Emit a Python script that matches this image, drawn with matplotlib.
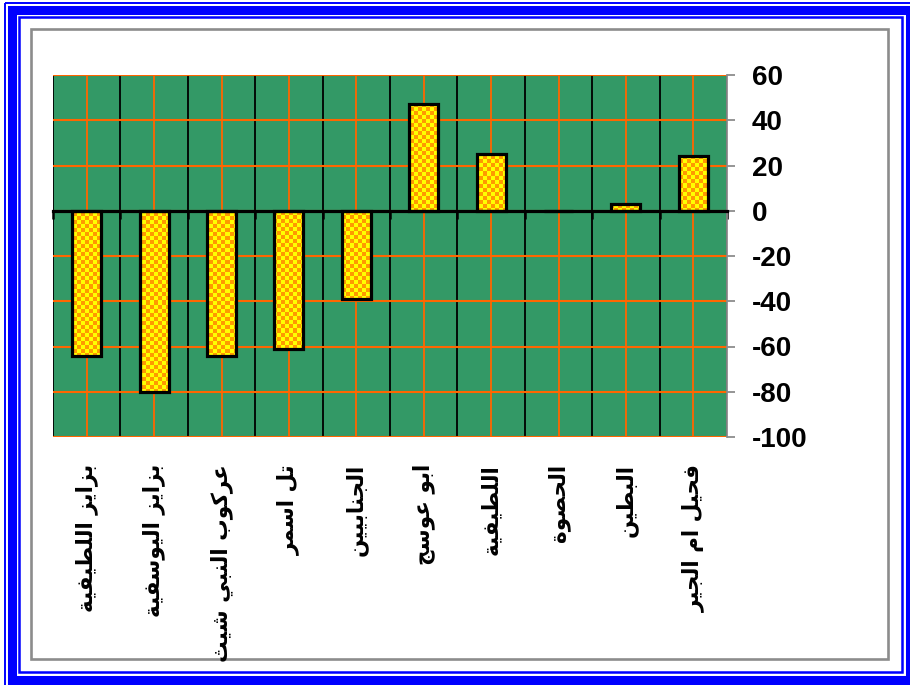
import numpy as np
import matplotlib
matplotlib.use("Agg")
import matplotlib.pyplot as plt
from matplotlib.colors import ListedColormap
from matplotlib.patches import Rectangle
from matplotlib.transforms import blended_transform_factory

sites = ["بزايز اللطيفية", "بزايز اليوسفية", "عركوب النبي شيث", "تل اسمر",
         "الجنابيين", "ابو عوسج", "اللطيفية", "الحصوة", "البطين", "فحيل ام الجير"]
change = [-64, -80, -64, -61, -39, 47, 25, 0, 3, 24]
yticks = [60, 40, 20, 0, -20, -40, -60, -80, -100]
ytick_labels = ["60", "40", "20", "0", "-20", "-40", "-60", "-80", "-100"]

# contextual forms (isolated, final, initial, medial); two entries = joins only to the right
FORMS = {
    'ا': (0xFE8D, 0xFE8E), 'ب': (0xFE8F, 0xFE90, 0xFE91, 0xFE92),
    'ة': (0xFE93, 0xFE94), 'ت': (0xFE95, 0xFE96, 0xFE97, 0xFE98),
    'ث': (0xFE99, 0xFE9A, 0xFE9B, 0xFE9C), 'ج': (0xFE9D, 0xFE9E, 0xFE9F, 0xFEA0),
    'ح': (0xFEA1, 0xFEA2, 0xFEA3, 0xFEA4), 'د': (0xFEA9, 0xFEAA),
    'ر': (0xFEAD, 0xFEAE), 'ز': (0xFEAF, 0xFEB0),
    'س': (0xFEB1, 0xFEB2, 0xFEB3, 0xFEB4), 'ش': (0xFEB5, 0xFEB6, 0xFEB7, 0xFEB8),
    'ص': (0xFEB9, 0xFEBA, 0xFEBB, 0xFEBC), 'ط': (0xFEC1, 0xFEC2, 0xFEC3, 0xFEC4),
    'ع': (0xFEC9, 0xFECA, 0xFECB, 0xFECC), 'ف': (0xFED1, 0xFED2, 0xFED3, 0xFED4),
    'ك': (0xFED9, 0xFEDA, 0xFEDB, 0xFEDC), 'ل': (0xFEDD, 0xFEDE, 0xFEDF, 0xFEE0),
    'م': (0xFEE1, 0xFEE2, 0xFEE3, 0xFEE4), 'ن': (0xFEE5, 0xFEE6, 0xFEE7, 0xFEE8),
    'ه': (0xFEE9, 0xFEEA, 0xFEEB, 0xFEEC), 'و': (0xFEED, 0xFEEE),
    'ي': (0xFEF1, 0xFEF2, 0xFEF3, 0xFEF4),
}


def shape(text):
    out = []
    for i, ch in enumerate(text):
        if ch not in FORMS:
            out.append(ch)
            continue
        prev = text[i - 1] if i > 0 else ''
        nxt = text[i + 1] if i + 1 < len(text) else ''
        f = FORMS[ch]
        jp = prev in FORMS and len(FORMS[prev]) == 4
        jn = len(f) == 4 and nxt in FORMS
        if jp and jn:
            k = 3
        elif jp:
            k = 1
        elif jn:
            k = 2
        else:
            k = 0
        out.append(chr(f[k]))
    return ''.join(reversed(out))


W, H = 910, 685
fig = plt.figure(figsize=(W / 100, H / 100), dpi=100)

# page border
frame = fig.add_axes([0, 0, 1, 1], zorder=-1)
frame.set_xlim(0, W)
frame.set_ylim(H, 0)
frame.axis("off")
frame.add_patch(Rectangle((5, 2.5), 915, 690, fill=False, ec="#0000FF", lw=1.4))
frame.add_patch(Rectangle((12, 9.5), 897.5, 670, fill=False, ec="#0000FF", lw=6.5))
frame.add_patch(Rectangle((19, 17), 882.5, 654.5, fill=False, ec="#0000FF", lw=1.8))
frame.add_patch(Rectangle((30.5, 28.5), 857, 630.5, fill=False, ec="#8C8C8C", lw=1.9))

ax = fig.add_axes([53 / W, 1 - 437 / H, 674 / W, 362 / H])
ax.set_facecolor("#339966")

x = np.arange(len(sites))
ax.set_xlim(-0.5, len(sites) - 0.5)
ax.set_ylim(-100, 60)

bars = ax.bar(x, change, width=0.43, color="#FFFF00", lw=0, zorder=2)

# checkered fill clipped to each bar
cells = np.indices((90, 168)).sum(axis=0) % 2
cmap = ListedColormap(["#FFFF00", "#FF9900"])
for b in bars:
    im = ax.imshow(cells, cmap=cmap, extent=(-0.5, len(sites) - 0.5, -100, 60),
                   aspect="auto", interpolation="nearest", zorder=2.2)
    im.set_clip_path(b)
ax.bar(x, change, width=0.43, fill=False, edgecolor="black", lw=2.3, zorder=3)
ax.set_xlim(-0.5, len(sites) - 0.5)
ax.set_ylim(-100, 60)

# grid: black at category boundaries, orange at centres and value steps
ax.set_xticks(np.arange(len(sites) + 1) - 0.5)
ax.set_xticks(x, minor=True)
ax.grid(axis="x", which="major", color="black", lw=1.3)
ax.grid(axis="x", which="minor", color="#FF6600", lw=1.3)
ax.grid(axis="y", which="major", color="#FF6600", lw=1.5)
ax.set_axisbelow(True)

ax.spines["top"].set_visible(False)
ax.spines["left"].set_visible(False)
ax.spines["bottom"].set_position(("data", 0))
ax.spines["bottom"].set_linewidth(2.3)
ax.spines["bottom"].set_zorder(3.5)
ax.spines["right"].set_color("#8C8C8C")
ax.spines["right"].set_linewidth(1.3)
ax.tick_params(axis="x", which="major", direction="out", length=6, width=1.8,
               color="black", labelbottom=False)
ax.tick_params(axis="x", which="minor", length=0, labelbottom=False)

ax.yaxis.tick_right()
ax.set_yticks(yticks)
ax.set_yticklabels(ytick_labels, fontsize=20, fontweight="bold",
                   family="Liberation Sans")
ax.tick_params(axis="y", direction="out", length=6, width=1.3, color="#8C8C8C",
               pad=12, left=False)

trans = blended_transform_factory(ax.transData, ax.transAxes)
for xi, name in zip(x, sites):
    ax.text(xi, -0.075, shape(name), transform=trans, rotation=90,
            ha="center", va="top", fontsize=15.5, fontweight="bold",
            family=["DejaVu Sans"])

fig.savefig("out.png", dpi=100)
